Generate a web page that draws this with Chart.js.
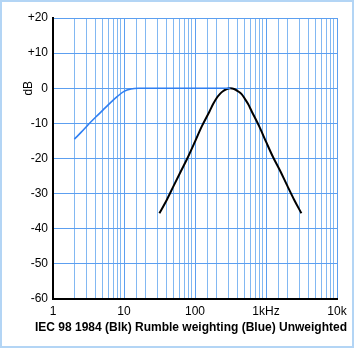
<!DOCTYPE html>
<html>
<head>
<meta charset="utf-8">
<script src="https://cdn.jsdelivr.net/npm/chart.js@4"></script>
<style>
  html, body { margin: 0; padding: 0; background: #fff; }
  #wrap { position: relative; width: 354px; height: 354px; }
  #frame {
    position: absolute; left: 0; top: 0; width: 350px; height: 344px;
    border: 2px solid #b3d5f5; pointer-events: none;
  }
</style>
</head>
<body>
<div id="wrap">
  <canvas id="chart" width="354" height="354"></canvas>
  <div id="frame"></div>
</div>
<script>
// IEC 98 (black) curve
const iecFreq = [31.5, 40, 50, 63, 80, 100, 125, 160, 180, 200, 225, 250, 280, 315, 355, 400, 450, 500, 560, 630, 800, 1000, 1250, 1600, 2000, 2500, 3150];
const iecDb   = [-35.6, -31.8, -27.8, -23.7, -19.5, -15.2, -10.8, -6.6, -4.5, -2.9, -1.6, -0.8, -0.2, 0, -0.2, -0.8, -1.6, -2.9, -4.5, -6.6, -10.8, -15.2, -19.5, -23.7, -27.8, -31.8, -35.6];

// rumble weighting (blue) curve
const rumbleFreq = [2, 2.5, 3.15, 4, 5, 6.3, 8, 10, 12.5, 16, 20, 50, 100, 200, 315];
const rumbleDb   = [-14.5, -12.5, -10.3, -8.2, -6.3, -4.3, -2.4, -0.9, -0.2, 0, 0, 0, 0, 0, 0];

const xTickValues = [1, 10, 100, 1000, 10000];
const xTickLabels = ["1", "10", "100", "1kHz", "10k"];
const yTickLabels = ["+20", "+10", "0", "-10", "-20", "-30", "-40", "-50", "-60"];

const titleText = "IEC 98 1984 (Blk) Rumble weighting (Blue) Unweighted";

function toPoints(xs, ys) {
    return xs.map((x, i) => ({ x: x, y: ys[i] }));
}

// "dB" label next to the 0 dB tick, and the caption under the chart
const textPlugin = {
    id: "texts",
    afterDraw(chart) {
        const ctx = chart.ctx;
        const y = chart.scales.y.getPixelForValue(0);

        ctx.save();
        ctx.translate(29, y);
        ctx.rotate(-Math.PI / 2);
        ctx.font = "12px 'Liberation Sans', Arial, sans-serif";
        ctx.fillStyle = "#000";
        ctx.textAlign = "center";
        ctx.textBaseline = "middle";
        ctx.fillText("dB", 0, 0);
        ctx.restore();

        ctx.save();
        ctx.font = "bold 12px 'Liberation Sans', Arial, sans-serif";
        ctx.fillStyle = "#000";
        ctx.textAlign = "center";
        ctx.textBaseline = "middle";
        ctx.fillText(titleText, 191, 328);
        ctx.restore();
    }
};

new Chart(document.getElementById("chart"), {
    type: "scatter",
    data: {
        datasets: [
            {
                label: "Rumble weighting",
                data: toPoints(rumbleFreq, rumbleDb),
                showLine: true,
                borderColor: "#2f7ff2",
                borderWidth: 1.6,
                pointRadius: 0,
                cubicInterpolationMode: "monotone",
                fill: false
            },
            {
                label: "IEC 98",
                data: toPoints(iecFreq, iecDb),
                showLine: true,
                borderColor: "#000",
                borderWidth: 2,
                pointRadius: 0,
                cubicInterpolationMode: "monotone",
                fill: false
            }
        ]
    },
    options: {
        responsive: false,
        animation: false,
        layout: { padding: { left: 0, top: 18, right: 17, bottom: 37 } },
        plugins: {
            legend: { display: false },
            tooltip: { enabled: false }
        },
        scales: {
            x: {
                type: "logarithmic",
                min: 1,
                max: 10000,
                afterFit(scale) { scale.height = 18; },
                border: { color: "#000", width: 2 },
                grid: {
                    // decades a bit stronger than the 2..9 lines
                    color: (ctx) => xTickValues.includes(ctx.tick && ctx.tick.value) ? "#5c9ff0" : "#82b8f2",
                    lineWidth: 1,
                    drawTicks: false
                },
                ticks: {
                    autoSkip: false,
                    maxRotation: 0,
                    padding: 5,
                    color: "#000",
                    font: { family: "'Liberation Sans', Arial, sans-serif", size: 12 },
                    callback: (value) => {
                        const i = xTickValues.indexOf(Number(value));
                        return i >= 0 ? xTickLabels[i] : "";
                    }
                }
            },
            y: {
                min: -60,
                max: 20,
                afterFit(scale) { scale.width = 53; },
                border: { color: "#000", width: 2 },
                grid: { color: "#5c9ff0", lineWidth: 1, drawTicks: false },
                ticks: {
                    stepSize: 10,
                    padding: 5,
                    color: "#000",
                    font: { family: "'Liberation Sans', Arial, sans-serif", size: 12 },
                    callback: (value) => yTickLabels[(20 - value) / 10]
                }
            }
        }
    },
    plugins: [textPlugin]
});
</script>
</body>
</html>
